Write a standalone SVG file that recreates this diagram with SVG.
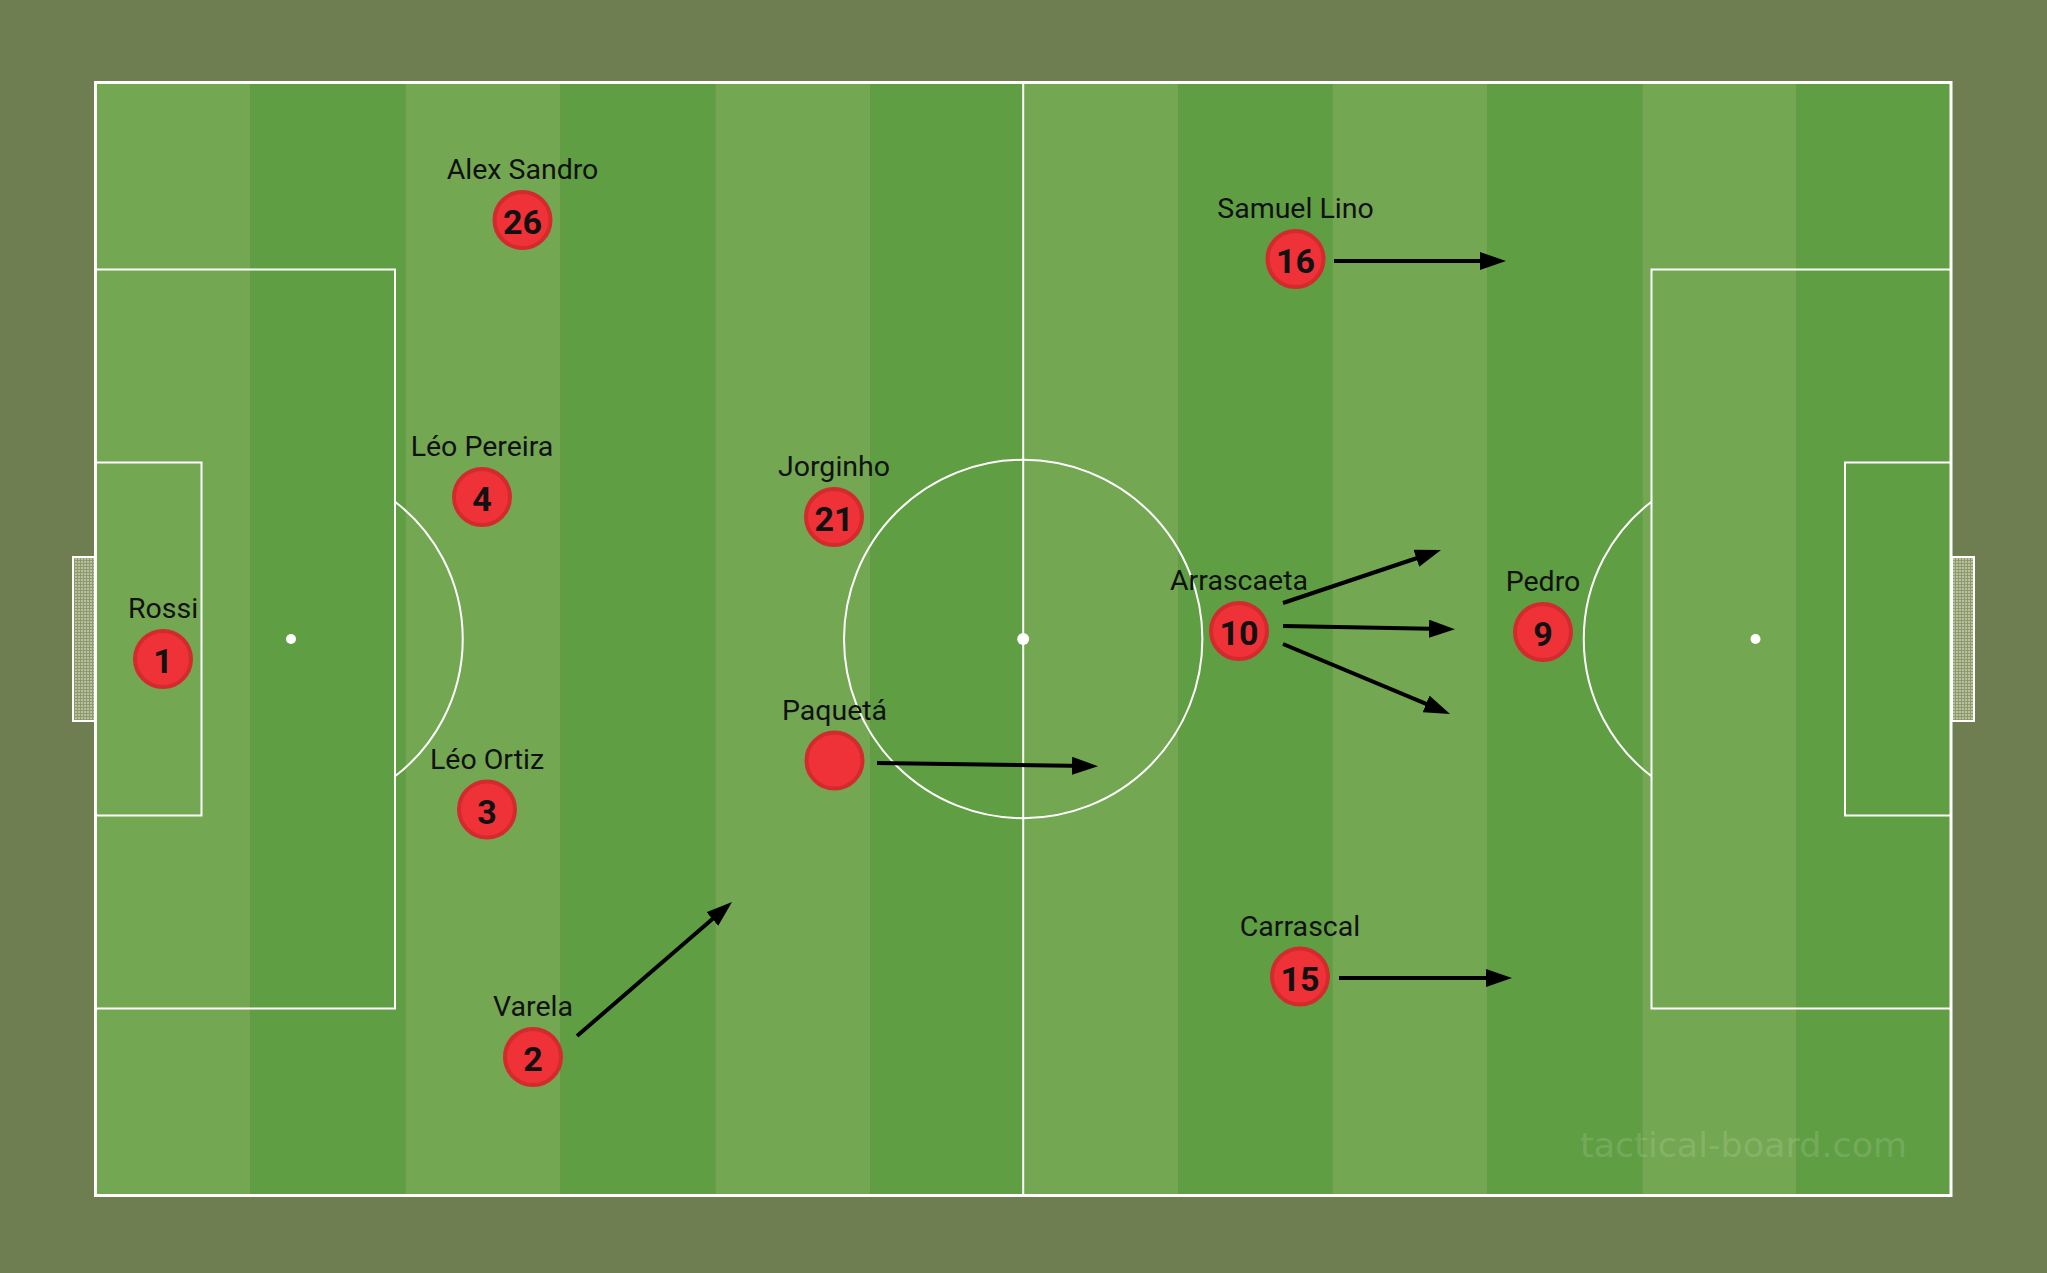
<svg xmlns="http://www.w3.org/2000/svg" width="2047" height="1273" viewBox="0 0 2047 1273">
<defs>
<style>
.line{fill:none;stroke:#ffffff;stroke-width:2}
.outline{fill:none;stroke:#ffffff;stroke-width:3}
.lt{fill:#73a752}
.dk{fill:#5f9e43}
.spot{fill:#ffffff}
.pc{fill:#ee3237;stroke:#d32a2d;stroke-width:4}
.num{font-family:Roboto,"Liberation Sans",sans-serif;font-weight:bold;font-size:34px;fill:#111111;text-anchor:middle}
.lbl{font-family:Roboto,"Liberation Sans",sans-serif;font-size:28.5px;fill:#111111;text-anchor:middle}
.arrow{stroke:#000000;stroke-width:4;fill:none;marker-end:url(#ah)}
.goal{fill:url(#net);stroke:#ffffff;stroke-width:2}
</style>
<marker id="ah" viewBox="0 0 26 18" refX="15" refY="9" markerWidth="26" markerHeight="18" markerUnits="userSpaceOnUse" orient="auto">
<path d="M0,0 L26,9 L0,18 z" fill="#000000"/>
</marker>
<pattern id="net" width="3" height="3" patternUnits="userSpaceOnUse">
<rect width="3" height="3" fill="#8e9a6e"/>
<rect width="2" height="2" fill="#b9c19f"/>
</pattern>
</defs>
<rect x="0" y="0" width="2047" height="1273" fill="#6f7e51"/>
<g id="pitch">
<rect class="lt" x="95.5" y="82.5" width="155" height="1113"/>
<rect class="dk" x="250.5" y="82.5" width="155" height="1113"/>
<rect class="lt" x="405.5" y="82.5" width="155" height="1113"/>
<rect class="dk" x="560.5" y="82.5" width="155" height="1113"/>
<rect class="lt" x="715.5" y="82.5" width="155" height="1113"/>
<rect class="dk" x="870.5" y="82.5" width="153" height="1113"/>
<rect class="lt" x="1023.5" y="82.5" width="155" height="1113"/>
<rect class="dk" x="1178.5" y="82.5" width="154" height="1113"/>
<rect class="lt" x="1332.5" y="82.5" width="155" height="1113"/>
<rect class="dk" x="1487.5" y="82.5" width="155" height="1113"/>
<rect class="lt" x="1642.5" y="82.5" width="154" height="1113"/>
<rect class="dk" x="1796.5" y="82.5" width="155" height="1113"/>
<rect class="outline" x="95.5" y="82.5" width="1855.5" height="1113"/>
<line class="line" x1="1023.2" y1="82.5" x2="1023.2" y2="1195.5"/>
<circle class="line" cx="1023.2" cy="639" r="179.2"/>
<circle class="spot" cx="1023.2" cy="639" r="6"/>
<rect class="line" x="95.5" y="269.5" width="299.5" height="739"/>
<rect class="line" x="95.5" y="462.5" width="106" height="353"/>
<circle class="spot" cx="291" cy="639" r="5"/>
<path class="line" d="M395,501.7 A173,173 0 0 1 395,776.3"/>
<rect class="line" x="1651.5" y="269.5" width="299.5" height="739"/>
<rect class="line" x="1845" y="462.5" width="106" height="353"/>
<circle class="spot" cx="1755.5" cy="639" r="5"/>
<path class="line" d="M1651.5,501.7 A173,173 0 0 0 1651.5,776.3"/>
<rect class="goal" x="73" y="557" width="22" height="164"/>
<rect class="goal" x="1952" y="557" width="22" height="164"/>
</g>
<text x="1580" y="1157" font-family="'DejaVu Sans',sans-serif" font-size="34" fill="#ffffff" fill-opacity="0.15" textLength="327" lengthAdjust="spacingAndGlyphs">tactical-board.com</text>
<g id="connectors">
<line class="arrow" x1="1334" y1="261" x2="1495" y2="261"/>
<line class="arrow" x1="1339" y1="978" x2="1501" y2="978"/>
<line class="arrow" x1="577" y1="1036" x2="723.7" y2="909.2"/>
<line class="arrow" x1="877" y1="763" x2="1087" y2="766"/>
<line class="arrow" x1="1283" y1="603" x2="1430.6" y2="553.5"/>
<line class="arrow" x1="1283" y1="626" x2="1444" y2="629"/>
<line class="arrow" x1="1283" y1="644" x2="1439.9" y2="709.7"/>
</g>
<g id="player-alex-sandro"><circle class="pc" cx="522.5" cy="220" r="28"/><text class="lbl" x="522.5" y="179">Alex Sandro</text><text class="num" x="522.5" y="234">26</text></g>
<g id="player-samuel-lino"><circle class="pc" cx="1295.5" cy="259" r="28"/><text class="lbl" x="1295.5" y="218">Samuel Lino</text><text class="num" x="1295.5" y="273">16</text></g>
<g id="player-leo-pereira"><circle class="pc" cx="482" cy="497" r="28"/><text class="lbl" x="482" y="456">Léo Pereira</text><text class="num" x="482" y="511">4</text></g>
<g id="player-jorginho"><circle class="pc" cx="834" cy="517" r="28"/><text class="lbl" x="834" y="476">Jorginho</text><text class="num" x="834" y="531">21</text></g>
<g id="player-rossi"><circle class="pc" cx="163" cy="659" r="28"/><text class="lbl" x="163" y="618">Rossi</text><text class="num" x="163" y="673">1</text></g>
<g id="player-arrascaeta"><circle class="pc" cx="1239" cy="631" r="28"/><text class="lbl" x="1239" y="590">Arrascaeta</text><text class="num" x="1239" y="645">10</text></g>
<g id="player-pedro"><circle class="pc" cx="1543" cy="632" r="28"/><text class="lbl" x="1543" y="591">Pedro</text><text class="num" x="1543" y="646">9</text></g>
<g id="player-paqueta"><circle class="pc" cx="834.5" cy="760.5" r="28"/><text class="lbl" x="834.5" y="719.5">Paquetá</text></g>
<g id="player-leo-ortiz"><circle class="pc" cx="487" cy="809.5" r="28"/><text class="lbl" x="487" y="768.5">Léo Ortiz</text><text class="num" x="487" y="823.5">3</text></g>
<g id="player-carrascal"><circle class="pc" cx="1300" cy="976.5" r="28"/><text class="lbl" x="1300" y="935.5">Carrascal</text><text class="num" x="1300" y="990.5">15</text></g>
<g id="player-varela"><circle class="pc" cx="533" cy="1057" r="28"/><text class="lbl" x="533" y="1016">Varela</text><text class="num" x="533" y="1071">2</text></g>
</svg>
